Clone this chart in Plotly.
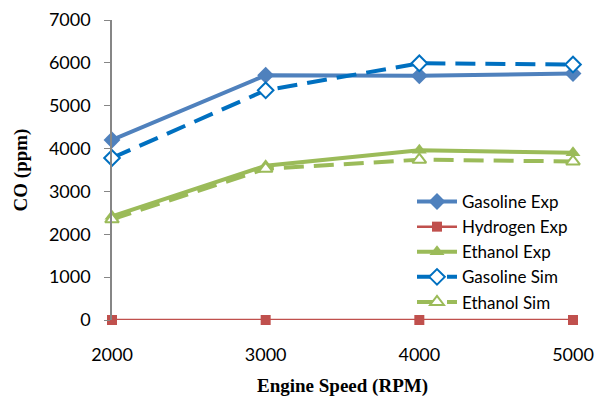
import plotly.graph_objects as go

speeds = [2000, 3000, 4000, 5000]
gasoline_exp = [4200, 5710, 5700, 5750]
hydrogen_exp = [0, 0, 0, 0]
ethanol_exp = [2420, 3600, 3960, 3900]
gasoline_sim = [3780, 5360, 5990, 5960]
ethanol_sim = [2350, 3530, 3740, 3700]
y_ticks = [0, 1000, 2000, 3000, 4000, 5000, 6000, 7000]

fig = go.Figure()
fig.add_trace(go.Scatter(x=speeds, y=gasoline_exp, name="Gasoline Exp", mode="lines+markers",
                         line=dict(color="#4F81BD", width=4),
                         marker=dict(symbol="diamond", size=13, color="#4F81BD")))
fig.add_trace(go.Scatter(x=speeds, y=hydrogen_exp, name="Hydrogen Exp", mode="lines+markers",
                         line=dict(color="#C0504D", width=2.5),
                         marker=dict(symbol="square", size=10, color="#C0504D")))
fig.add_trace(go.Scatter(x=speeds, y=ethanol_exp, name="Ethanol Exp", mode="lines+markers",
                         line=dict(color="#9BBB59", width=4),
                         marker=dict(symbol="triangle-up", size=13, color="#9BBB59")))
fig.add_trace(go.Scatter(x=speeds, y=gasoline_sim, name="Gasoline Sim", mode="lines+markers",
                         line=dict(color="#0070C0", width=4, dash="20px,10px"),
                         marker=dict(symbol="diamond", size=12, color="white",
                                     line=dict(color="#0070C0", width=2))))
fig.add_trace(go.Scatter(x=speeds, y=ethanol_sim, name="Ethanol Sim", mode="lines+markers",
                         line=dict(color="#9BBB59", width=4, dash="20px,10px"),
                         marker=dict(symbol="triangle-up", size=12, color="white",
                                     line=dict(color="#9BBB59", width=2))))
fig.update_traces(cliponaxis=False)

fig.update_layout(
    width=604, height=397,
    margin=dict(l=112, r=31, t=20, b=77),
    paper_bgcolor="white", plot_bgcolor="white",
    font=dict(family="Lato, Open Sans, sans-serif", size=18, color="black"),
    showlegend=True,
    legend=dict(x=1.0, xanchor="right", y=0.0, yanchor="bottom",
                font=dict(size=17), bgcolor="rgba(255,255,255,0)",
                tracegroupgap=0, itemwidth=40),
    xaxis=dict(range=[2000, 5000], tickvals=speeds, ticktext=[str(s) for s in speeds],
               showgrid=False, zeroline=False, showline=False, ticks="",
               ticklabelstandoff=22, automargin=False,
               title=dict(text="<b>Engine Speed (RPM)</b>", standoff=14,
                          font=dict(family="Liberation Serif, Times New Roman, serif", size=19))),
    yaxis=dict(range=[0, 7000], tickvals=y_ticks, showgrid=False, zeroline=False,
               showline=True, linecolor="#868686", linewidth=1.5,
               ticks="outside", ticklen=6, tickcolor="#868686",
               ticklabelstandoff=10, automargin=False,
               title=dict(text="<b>CO (ppm)</b>", standoff=16,
                          font=dict(family="Liberation Serif, Times New Roman, serif", size=19))),
)

fig.write_html("out.html")
